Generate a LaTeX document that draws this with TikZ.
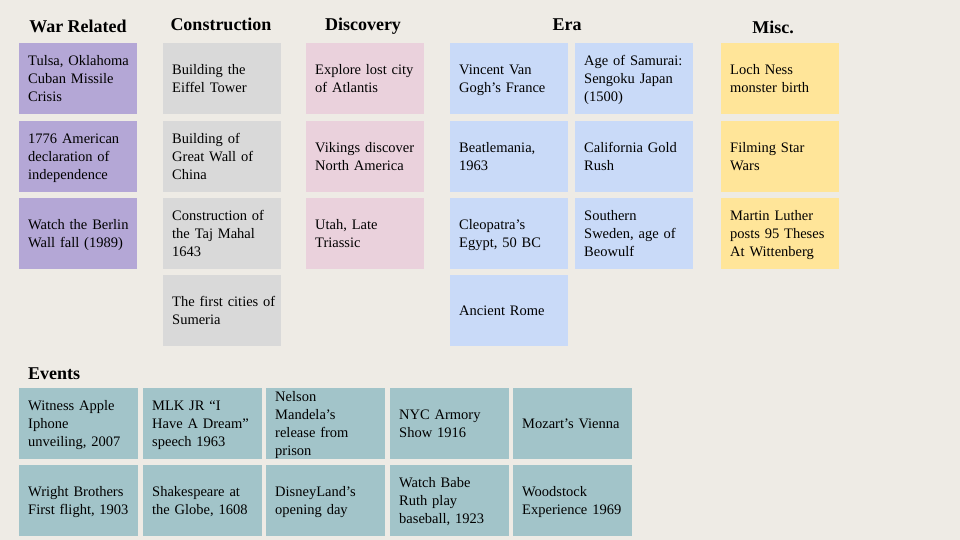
\documentclass[tikz,border=0pt]{standalone}
\usepackage{fontspec}
\setmainfont{Liberation Serif}
% keep each written line of a note on one line, centred on the note
% without letting a long text stretch the note
\newcommand\notelines[1]{\smash{\lower5pt\hbox{$\vcenter{\hbox{\begin{tabular}{@{}l@{}}#1\end{tabular}}}$}}}
\begin{document}
\begin{tikzpicture}[x=1pt,y=-1pt,
  note/.style={anchor=north west,text width=100pt,inner xsep=9pt,inner ysep=0pt,
    minimum height=71pt,font=\fontsize{14.5}{18}\selectfont,text=black},
  notew/.style={note,text width=101pt},
  war/.style={note,fill=warC},
  build/.style={note,fill=buildC},
  disc/.style={note,fill=discC},
  era/.style={note,fill=eraC},
  misc/.style={note,fill=miscC},
  event/.style={notew,fill=eventC},
  head/.style={anchor=base,font=\fontsize{18}{22}\selectfont\bfseries,inner sep=0pt}]
\definecolor{bgC}{HTML}{EEEBE5}
\definecolor{warC}{HTML}{B4A7D6}
\definecolor{buildC}{HTML}{D9D9D9}
\definecolor{discC}{HTML}{EAD1DC}
\definecolor{eraC}{HTML}{C9DAF8}
\definecolor{miscC}{HTML}{FFE599}
\definecolor{eventC}{HTML}{A2C4C9}
\fill[bgC] (0,0) rectangle (960,540);
\useasboundingbox (0,0) rectangle (960,540);

% column headings
\node[head] (hwar)   at (78,33)  {War Related};
\node[head] (hbuild) at (221,31) {Construction};
\node[head] (hdisc)  at (363,31) {Discovery};
\node[head] (hera)   at (567,31) {Era};
\node[head] (hmisc)  at (773,34) {Misc.};
\node[head,anchor=base west] (hevt) at (28,379) {Events};

% War Related
\node[war] (w1) at (19,43)  {\notelines{Tulsa, Oklahoma\\Cuban Missile\\Crisis}};
\node[war] (w2) at (19,121) {\notelines{1776 American\\declaration of\\independence}};
\node[war] (w3) at (19,198) {\notelines{Watch the Berlin\\Wall fall (1989)}};

% Construction
\node[build] (c1) at (163,43)  {\notelines{Building the\\Eiffel Tower}};
\node[build] (c2) at (163,121) {\notelines{Building of\\Great Wall of\\China}};
\node[build] (c3) at (163,198) {\notelines{Construction of\\the Taj Mahal\\1643}};
\node[build] (c4) at (163,275) {\notelines{The first cities of\\Sumeria}};

% Discovery
\node[disc] (d1) at (306,43)  {\notelines{Explore lost city\\of Atlantis}};
\node[disc] (d2) at (306,121) {\notelines{Vikings discover\\North America}};
\node[disc] (d3) at (306,198) {\notelines{Utah, Late\\Triassic}};

% Era
\node[era] (e1) at (450,43)  {\notelines{Vincent Van\\Gogh’s France}};
\node[era] (e2) at (450,121) {\notelines{Beatlemania,\\1963}};
\node[era] (e3) at (450,198) {\notelines{Cleopatra’s\\Egypt, 50 BC}};
\node[era] (e4) at (450,275) {\notelines{Ancient Rome}};
\node[era] (e5) at (575,43)  {\notelines{Age of Samurai:\\Sengoku Japan\\(1500)}};
\node[era] (e6) at (575,121) {\notelines{California Gold\\Rush}};
\node[era] (e7) at (575,198) {\notelines{Southern\\Sweden, age of\\Beowulf}};

% Misc.
\node[misc] (m1) at (721,43)  {\notelines{Loch Ness\\monster birth}};
\node[misc] (m2) at (721,121) {\notelines{Filming Star\\Wars}};
\node[misc] (m3) at (721,198) {\notelines{Martin Luther\\posts 95 Theses\\At Wittenberg}};

% Events
\node[event] (v1)  at (19,388)  {\notelines{Witness Apple\\Iphone\\unveiling, 2007}};
\node[event] (v2)  at (143,388) {\notelines{MLK JR “I\\Have A Dream”\\speech 1963}};
\node[event] (v3)  at (266,388) {\notelines{Nelson\\Mandela’s\\release from\\prison}};
\node[event] (v4)  at (390,388) {\notelines{NYC Armory\\Show 1916}};
\node[event] (v5)  at (513,388) {\notelines{Mozart’s Vienna}};
\node[event] (v6)  at (19,465)  {\notelines{Wright Brothers\\First flight, 1903}};
\node[event] (v7)  at (143,465) {\notelines{Shakespeare at\\the Globe, 1608}};
\node[event] (v8)  at (266,465) {\notelines{DisneyLand’s\\opening day}};
\node[event] (v9)  at (390,465) {\notelines{Watch Babe\\Ruth play\\baseball, 1923}};
\node[event] (v10) at (513,465) {\notelines{Woodstock\\Experience 1969}};
\end{tikzpicture}
\end{document}
